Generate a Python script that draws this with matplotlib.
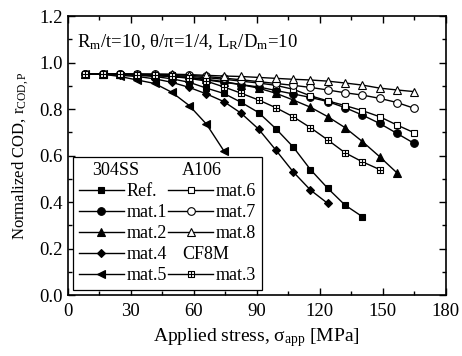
import numpy as np
import matplotlib
matplotlib.use("Agg")
import matplotlib.pyplot as plt
from matplotlib.path import Path
from matplotlib.lines import Line2D
from matplotlib.ticker import MultipleLocator, FormatStrFormatter

plt.rcParams['font.family'] = ['Liberation Serif', 'DejaVu Serif']
plt.rcParams['mathtext.fontset'] = 'custom'
plt.rcParams['mathtext.rm'] = 'Liberation Serif'
plt.rcParams['mathtext.it'] = 'Liberation Serif:italic'
plt.rcParams['mathtext.default'] = 'regular'

# applied stress levels [MPa]
stress = [8.3, 16.5, 24.8, 33.0, 41.3, 49.5, 57.8, 66.0, 74.3, 82.5,
          90.8, 99.0, 107.3, 115.5, 123.8, 132.0, 140.3, 148.5, 156.8, 165.0]

# 304SS
ref  = [0.95, 0.95, 0.948, 0.945, 0.94, 0.93, 0.915, 0.89, 0.867, 0.829,
        0.785, 0.716, 0.637, 0.54, 0.459, 0.387, 0.337]
mat1 = [0.95, 0.95, 0.95, 0.948, 0.945, 0.94, 0.935, 0.925, 0.915, 0.905,
        0.895, 0.88, 0.865, 0.85, 0.832, 0.806, 0.774, 0.738, 0.695, 0.652]
mat2 = [0.95, 0.95, 0.95, 0.948, 0.945, 0.94, 0.935, 0.928, 0.918, 0.905,
        0.89, 0.868, 0.839, 0.808, 0.767, 0.72, 0.66, 0.595, 0.525]
mat4 = [0.95, 0.95, 0.945, 0.94, 0.93, 0.915, 0.893, 0.865, 0.832, 0.782,
        0.714, 0.624, 0.53, 0.452, 0.394]
mat5 = [0.95, 0.95, 0.94, 0.925, 0.91, 0.872, 0.815, 0.735, 0.62]
# A106
mat6 = [0.95, 0.95, 0.95, 0.95, 0.948, 0.945, 0.94, 0.935, 0.928, 0.92,
        0.912, 0.902, 0.885, 0.857, 0.835, 0.815, 0.793, 0.767, 0.731, 0.698]
mat7 = [0.95, 0.95, 0.95, 0.95, 0.95, 0.948, 0.945, 0.94, 0.933, 0.926,
        0.918, 0.91, 0.902, 0.893, 0.882, 0.87, 0.86, 0.846, 0.828, 0.803]
mat8 = [0.95, 0.95, 0.95, 0.95, 0.95, 0.95, 0.948, 0.945, 0.942, 0.94,
        0.936, 0.932, 0.928, 0.925, 0.92, 0.912, 0.903, 0.89, 0.882, 0.875]
# CF8M
mat3 = [0.95, 0.95, 0.95, 0.948, 0.945, 0.94, 0.932, 0.92, 0.895, 0.868,
        0.839, 0.806, 0.767, 0.72, 0.667, 0.612, 0.573, 0.54]

# square with a cross inside
boxplus = Path([(-1, -1), (1, -1), (1, 1), (-1, 1), (-1, -1),
                (0, -1), (0, 1), (-1, 0), (1, 0)],
               [Path.MOVETO, Path.LINETO, Path.LINETO, Path.LINETO, Path.CLOSEPOLY,
                Path.MOVETO, Path.LINETO, Path.MOVETO, Path.LINETO])

series = [
    ("Ref.", ref, 's', 'k', 5),
    ("mat.1", mat1, 'o', 'k', 5.5),
    ("mat.2", mat2, '^', 'k', 6),
    ("mat.4", mat4, 'D', 'k', 4.5),
    ("mat.5", mat5, '<', 'k', 6),
    ("mat.6", mat6, 's', 'w', 5),
    ("mat.7", mat7, 'o', 'w', 5.5),
    ("mat.8", mat8, '^', 'w', 6),
    ("mat.3", mat3, boxplus, 'w', 5),
]

fig = plt.figure(figsize=(4.62, 3.56), dpi=100)
ax = fig.add_axes([0.147, 0.171, 0.818, 0.784])

handles = {}
for name, vals, mk, fc, ms in series:
    h, = ax.plot(stress[:len(vals)], vals, color='k', lw=1.0, marker=mk,
                 markersize=ms, markerfacecolor=fc, markeredgecolor='k',
                 markeredgewidth=0.8)
    handles[name] = h

# two columns, with group headers as rows of their own
blank = Line2D([], [], linestyle='none', marker='none')
col1 = ["304SS", "Ref.", "mat.1", "mat.2", "mat.4", "mat.5"]
col2 = ["A106", "mat.6", "mat.7", "mat.8", "CF8M", "mat.3"]
headers = ["304SS", "A106", "CF8M"]
names = col1 + col2
hs = [blank if n in headers else handles[n] for n in names]
labels = [" " if n in headers else n for n in names]
leg = ax.legend(hs, labels, ncol=2, loc='lower left', bbox_to_anchor=(0.0, 0.0),
                fontsize=13, handlelength=2.5, handletextpad=0.15,
                columnspacing=0.05, labelspacing=0.22, borderpad=0.3,
                borderaxespad=0.3, fancybox=False, edgecolor='k', framealpha=1)
leg.get_frame().set_linewidth(0.9)

# headers sit further left than the entry labels
fig.canvas.draw()
for n, t in zip(names, leg.get_texts()):
    if n in headers:
        bb = t.get_window_extent()
        x, y = ax.transAxes.inverted().transform((bb.x0 - 34, (bb.y0 + bb.y1) / 2))
        ax.text(x, y, n, transform=ax.transAxes, fontsize=13,
                va='center', ha='left', zorder=10)

ax.text(0.024, 0.907, r"R$_{m}$/t=10, θ/π=1/4, L$_{R}$/D$_{m}$=10",
        transform=ax.transAxes, fontsize=13.5, va='center')

ax.set_xlim(0, 180)
ax.set_ylim(0.0, 1.2)
ax.xaxis.set_major_locator(MultipleLocator(30))
ax.xaxis.set_minor_locator(MultipleLocator(15))
ax.yaxis.set_major_locator(MultipleLocator(0.2))
ax.yaxis.set_minor_locator(MultipleLocator(0.1))
ax.yaxis.set_major_formatter(FormatStrFormatter('%.1f'))
ax.tick_params(which='both', direction='in', top=True, right=True, labelsize=13.5, width=1.0)
ax.tick_params(axis='x', which='major', pad=6)
ax.tick_params(which='major', length=5)
ax.tick_params(which='minor', length=3)
for s in ax.spines.values():
    s.set_linewidth(1.2)

ax.set_xlabel(r"Applied stress, σ$_{app}$ [MPa]", fontsize=14, labelpad=4)
ax.set_ylabel(r"Normalized COD, r$_{COD,P}$", fontsize=12, labelpad=6)

fig.savefig("out.png", dpi=100)
